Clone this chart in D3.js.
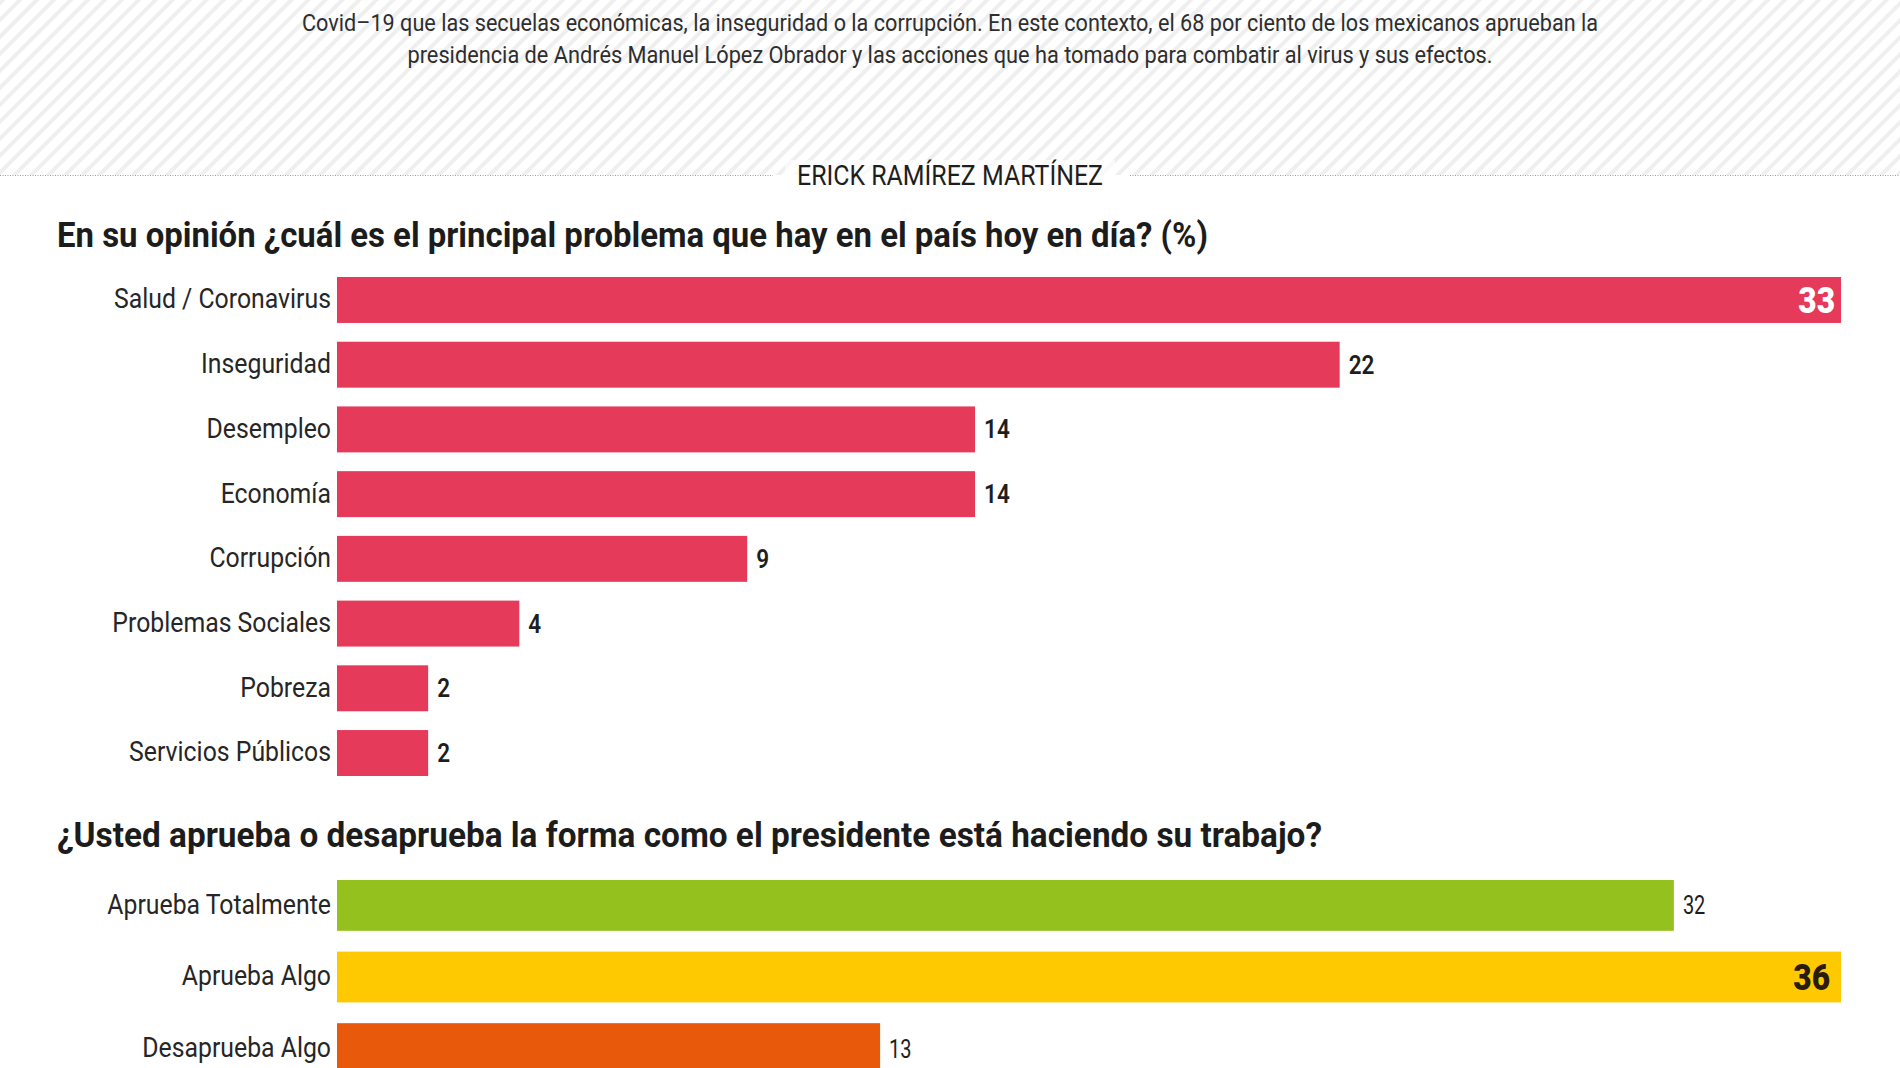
<!DOCTYPE html>
<html>
<head>
<meta charset="utf-8">
<script src="https://cdn.jsdelivr.net/npm/d3@7"></script>
<style>
  html, body { margin: 0; padding: 0; background: #ffffff; overflow: hidden; }
  svg { display: block; }
  text { font-family: Roboto, "Noto Sans", "Open Sans", sans-serif; }
</style>
</head>
<body>
<svg id="chart" width="1900" height="1068"></svg>
<script>
// ---------------- DATA ----------------
const introLines = [
  "Covid–19 que las secuelas económicas, la inseguridad o la corrupción. En este contexto, el 68 por ciento de los mexicanos aprueban la",
  "presidencia de Andrés Manuel López Obrador y las acciones que ha tomado para combatir al virus y sus efectos."
];
const author = "ERICK RAMÍREZ MARTÍNEZ";

const problemTitle = "En su opinión ¿cuál es el principal problema que hay en el país hoy en día? (%)";
const problemCategories = ["Salud / Coronavirus", "Inseguridad", "Desempleo", "Economía", "Corrupción", "Problemas Sociales", "Pobreza", "Servicios Públicos"];
const problemValues = [33, 22, 14, 14, 9, 4, 2, 2];

const approvalTitle = "¿Usted aprueba o desaprueba la forma como el presidente está haciendo su trabajo?";
const approvalCategories = ["Aprueba Totalmente", "Aprueba Algo", "Desaprueba Algo"];
const approvalValues = [32, 36, 13];

// ---------------- STYLE ----------------
const PINK = "#e63a5b";
const approvalColors = ["#95c11f", "#ffc900", "#e8590c"];
const approvalInsideText = ["#2a1c0c", "#2a1c0c", "#ffffff"];

const svg = d3.select("#chart");

// background hatch for header
const defs = svg.append("defs");
const pat = defs.append("pattern")
  .attr("id", "hatch")
  .attr("patternUnits", "userSpaceOnUse")
  .attr("width", 12).attr("height", 12)
  .attr("patternTransform", "rotate(45)");
pat.append("rect").attr("width", 12).attr("height", 12).attr("fill", "#ffffff");
pat.append("rect").attr("x", 0).attr("y", 0).attr("width", 4).attr("height", 12).attr("fill", "#efefef");

svg.append("rect").attr("x", 0).attr("y", 0).attr("width", 1900).attr("height", 175)
  .attr("fill", "url(#hatch)");

function fitWidth(node, w) {
  node.setAttribute("textLength", w);
  node.setAttribute("lengthAdjust", "spacingAndGlyphs");
}

// intro text
const introWidths = [1296, 1085];
const introY = [31, 63];
introLines.forEach((t, i) => {
  const n = svg.append("text")
    .attr("x", 950).attr("y", introY[i])
    .attr("text-anchor", "middle")
    .attr("font-size", 24)
    .attr("fill", "#2e2e2e")
    .text(t).node();
  fitWidth(n, introWidths[i]);
});

// divider with author
svg.append("line").attr("x1", 0).attr("x2", 773).attr("y1", 175.5).attr("y2", 175.5)
  .attr("stroke", "#9a9a9a").attr("stroke-width", 1).attr("stroke-dasharray", "1,1.5");
svg.append("line").attr("x1", 1130).attr("x2", 1900).attr("y1", 175.5).attr("y2", 175.5)
  .attr("stroke", "#9a9a9a").attr("stroke-width", 1).attr("stroke-dasharray", "1,1.5");
svg.append("rect").attr("x", 785).attr("y", 160).attr("width", 330).attr("height", 30).attr("fill", "#ffffff").attr("opacity", 0.6);
const an = svg.append("text")
  .attr("x", 950).attr("y", 185)
  .attr("text-anchor", "middle")
  .attr("font-size", 27)
  .attr("fill", "#1e1e1e")
  .text(author).node();
fitWidth(an, 306);

// titles
const t1 = svg.append("text").attr("x", 57).attr("y", 247)
  .attr("font-size", 35).attr("font-weight", 700).attr("fill", "#1c1c1c")
  .text(problemTitle).node();
fitWidth(t1, 1151);
const t2 = svg.append("text").attr("x", 57).attr("y", 847)
  .attr("font-size", 35).attr("font-weight", 700).attr("fill", "#1c1c1c")
  .text(approvalTitle).node();
fitWidth(t2, 1265);

// label condense ratio derived from the first label's measured width
const LABEL_SIZE = 28;
const probe = svg.append("text").attr("font-size", LABEL_SIZE).text(problemCategories[0]);
const labelK = 217 / probe.node().getComputedTextLength();
probe.remove();

function barChart(cfg) {
  const data = cfg.categories.map((c, i) => ({ c, v: cfg.values[i], i }));
  const y = d3.scaleBand().domain(cfg.categories).range(cfg.yRange)
    .paddingInner(0.29).paddingOuter(0);
  const x = d3.scaleLinear().domain([0, d3.max(cfg.values)]).range([337, 1841]);
  const maxV = d3.max(cfg.values);
  const g = svg.append("g");

  g.selectAll("rect.bar").data(data).join("rect")
    .attr("class", "bar")
    .attr("x", x(0))
    .attr("y", d => y(d.c))
    .attr("width", d => x(d.v) - x(0))
    .attr("height", y.bandwidth())
    .attr("fill", d => cfg.color(d));

  g.selectAll("text.lab").data(data).join("text")
    .attr("class", "lab")
    .attr("x", x(0) - 6)
    .attr("y", d => y(d.c) + y.bandwidth() / 2)
    .attr("dy", "0.3em")
    .attr("text-anchor", "end")
    .attr("font-size", LABEL_SIZE)
    .attr("fill", "#262626")
    .text(d => d.c)
    .each(function () { fitWidth(this, this.getComputedTextLength() * labelK); });

  g.selectAll("text.val").data(data).join("text")
    .attr("class", "val")
    .attr("x", d => d.v === maxV ? x(d.v) - cfg.insidePad : x(d.v) + 9)
    .attr("y", d => y(d.c) + y.bandwidth() / 2)
    .attr("dy", "0.36em")
    .attr("text-anchor", d => d.v === maxV ? "end" : "start")
    .attr("font-size", d => d.v === maxV ? 36 : cfg.valueSize)
    .attr("font-weight", d => d.v === maxV ? 900 : cfg.valueWeight)
    .attr("fill", d => d.v === maxV ? cfg.insideColor(d) : "#1e1e1e")
    .text(d => d.v)
    .each(function (d) {
      const k = d.v === maxV ? 0.88 : cfg.valueK;
      fitWidth(this, this.getComputedTextLength() * k);
    });
}

barChart({
  categories: problemCategories,
  values: problemValues,
  yRange: [277, 776],
  color: () => PINK,
  insideColor: () => "#ffffff",
  insidePad: 6,
  valueSize: 25,
  valueWeight: 600,
  valueK: 0.9
});

barChart({
  categories: approvalCategories,
  values: approvalValues,
  yRange: [880, 1074],
  color: d => approvalColors[d.i],
  insideColor: d => approvalInsideText[d.i],
  insidePad: 11,
  valueSize: 25,
  valueWeight: 400,
  valueK: 0.8
});
</script>
</body>
</html>
